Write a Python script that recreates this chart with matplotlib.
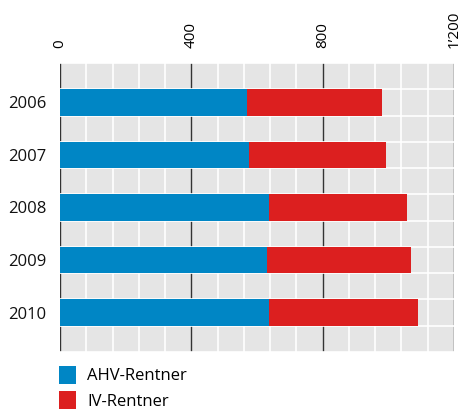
import numpy as np
import matplotlib.pyplot as plt
from matplotlib.ticker import FixedLocator

years = ["2006", "2007", "2008", "2009", "2010"]
ahv = [571, 576, 637, 630, 637]
iv = [410, 417, 420, 439, 453]
xticks = [0, 400, 800, 1200]
xticklabels = ["0", "400", "800", "1\u2019200"]

blue = "#0086c5"
red = "#dc1f1f"

plt.rcParams['font.family'] = ['Open Sans', 'DejaVu Sans']

fig = plt.figure(figsize=(4.6, 4.09), dpi=100)
ax = fig.add_axes([60/460, 1-352/409, 394/460, 289/409])
ax.set_facecolor("#e5e5e5")

y = np.arange(len(years))
ax.barh(y, ahv, height=0.5, color=blue, label="AHV-Rentner", zorder=3)
ax.barh(y, iv, left=ahv, height=0.5, color=red, label="IV-Rentner", zorder=3)

ax.set_xlim(0, 1200)
ax.set_ylim(len(years) - 0.25, -0.75)

# white grid every 80 and between bars
ax.xaxis.set_minor_locator(FixedLocator(np.arange(0, 1201, 80)))
ax.yaxis.set_minor_locator(FixedLocator(np.arange(-0.75, len(years), 0.5)))
ax.grid(which="minor", color="white", linewidth=1.2, zorder=1)

ax.xaxis.tick_top()
ax.set_xticks(xticks)
ax.set_xticklabels(xticklabels, rotation=90, fontsize=11, family=["Open Sans", "DejaVu Sans"])
ax.grid(which="major", axis="x", color="#333333", linewidth=1.0, zorder=2)
ax.tick_params(axis="x", which="both", length=0, pad=11)
ax.set_yticks(y)
ax.set_yticklabels(years, fontsize=12, color="#111111")
ax.tick_params(axis="y", which="both", length=0, pad=10)

for s in ax.spines.values():
    s.set_visible(False)

fig.legend(loc="upper left", bbox_to_anchor=(59/460, 1-366/409), frameon=False,
           handlelength=1.0, handleheight=1.25, handletextpad=0.7, labelspacing=0.42,
           borderpad=0, borderaxespad=0, fontsize=12)

plt.savefig("out.png", dpi=100)
